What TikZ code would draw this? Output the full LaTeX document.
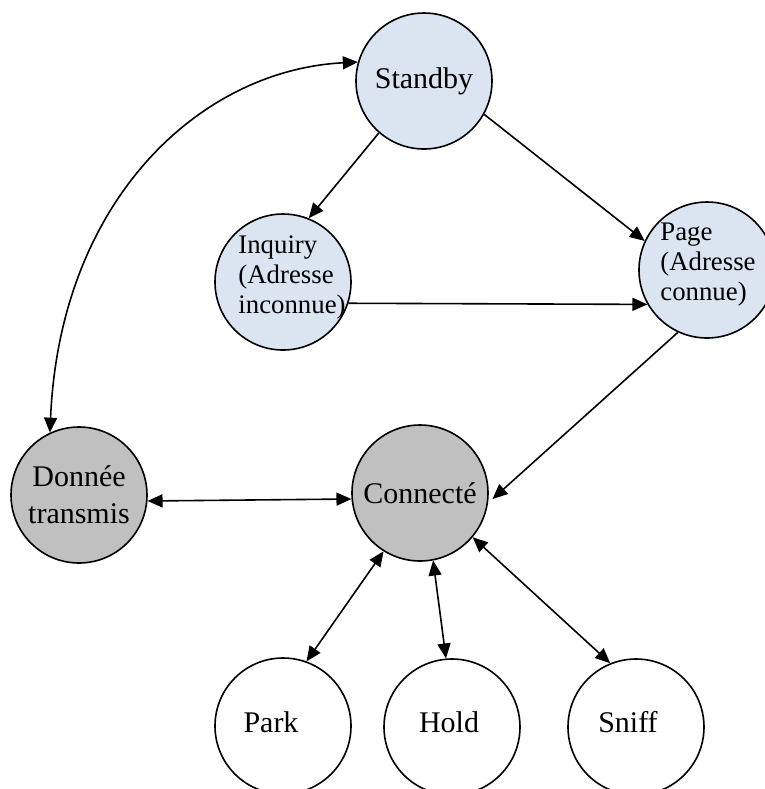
\documentclass[tikz,border=0pt]{standalone}
\usepackage{fontspec}
\setmainfont{Liberation Serif}
\usetikzlibrary{arrows.meta}
\definecolor{stateblue}{RGB}{219,228,241}
\definecolor{stategray}{RGB}{192,192,192}
\begin{document}
\begin{tikzpicture}[x=0.5pt,y=-0.5pt,
  state/.style={circle,draw=black,line width=0.8pt,minimum size=68pt,inner sep=0pt,
    font=\fontsize{15}{18.5}\selectfont,align=center},
  idle/.style={state,fill=stateblue},
  linked/.style={state,fill=stategray},
  mode/.style={state,fill=white},
  caption/.style={font=\fontsize{15}{18.5}\selectfont,align=center,inner sep=0pt},
  smallcaption/.style={font=\fontsize{13.4}{15}\selectfont,align=left,inner sep=0pt},
  link/.style={line width=0.8pt,-{Triangle[length=7.5pt,width=6.5pt]}},
  duplex/.style={line width=0.8pt,{Triangle[length=7.5pt,width=6.5pt]}-{Triangle[length=7.5pt,width=6.5pt]}}]
\useasboundingbox (0,0) rectangle (765,789);

% states
\node[idle] (standby) at (424,81) {Standby};
\node[idle] (inquiry) at (283,282) {};
\node[smallcaption] (inquirytext) at (292,277) {Inquiry\\(Adresse\\inconnue)};
\node[idle] (page) at (707,270) {};
\node[smallcaption] (pagetext) at (708,265) {Page\\(Adresse\\connue)};
\node[linked] (donnee) at (79,495) {Donnée\\transmis};
\node[linked] (connecte) at (420,493) {Connecté};
\node[mode] (park) at (283,726) {};
\node[caption] (parktext) at (271,722) {Park};
\node[mode] (hold) at (452,727) {};
\node[caption] (holdtext) at (449,722) {Hold};
\node[mode] (sniff) at (636,727) {};
\node[caption] (snifftext) at (628,722) {Sniff};

% transitions
\draw[link] (standby.229.6) -- (inquiry.68.7);
\draw[link] (standby.331) -- (page.155);
\draw[link] (inquiry.-18.7) -- (page.210);
\draw[link] (page.245.5) -- ([shift={(4,0)}]connecte.-5);
\draw[duplex] (donnee.-5) -- (connecte.185);
\draw[duplex] (connecte.238.8) -- (park.70.6);
\draw[duplex] (connecte.281) -- (hold.95.7);
\draw[duplex] (connecte.320.7) -- (sniff.112.5);
\draw[duplex] (donnee.115) .. controls (60,200) and (200,70) .. (standby.164);
\end{tikzpicture}
\end{document}
